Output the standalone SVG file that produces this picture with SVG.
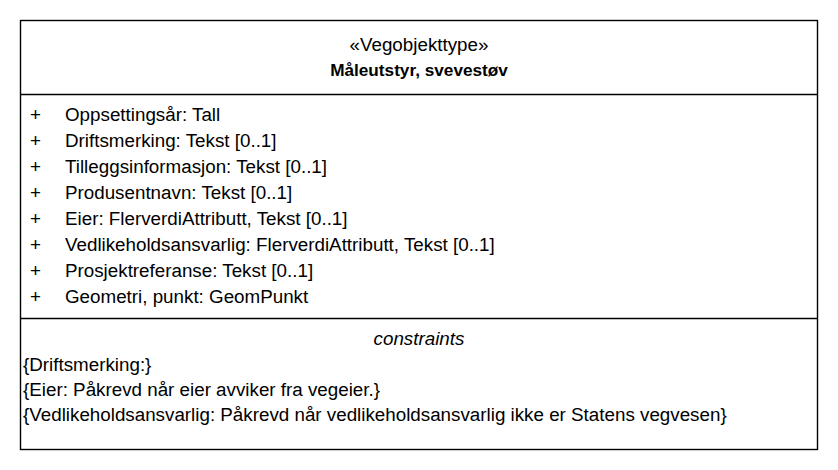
<svg xmlns="http://www.w3.org/2000/svg" width="838" height="470" viewBox="0 0 838 470">
<style>
.t{font-family:"Liberation Sans",Arial,sans-serif;font-size:18.8px;fill:#000}
.c{text-anchor:middle}
.b{font-weight:bold;font-size:17.2px}
.i{font-style:italic}
.ln{stroke:#000;stroke-width:1.4;fill:none}
</style>
<rect width="838" height="470" fill="#fff"/>
<g id="class-maleutstyr-svevestov">
<rect class="ln" x="20.5" y="20.5" width="797" height="429"/>
<line class="ln" x1="20.5" y1="94.5" x2="817.5" y2="94.5"/>
<line class="ln" x1="20.5" y1="318.5" x2="817.5" y2="318.5"/>
<text class="t c" x="419" y="51">«Vegobjekttype»</text>
<text class="t c b" x="419" y="76">Måleutstyr, svevestøv</text>
<g class="t">
<text x="30" y="121">+</text><text x="65" y="121">Oppsettingsår: Tall</text>
<text x="30" y="147">+</text><text x="65" y="147">Driftsmerking: Tekst [0..1]</text>
<text x="30" y="173">+</text><text x="65" y="173">Tilleggsinformasjon: Tekst [0..1]</text>
<text x="30" y="199">+</text><text x="65" y="199">Produsentnavn: Tekst [0..1]</text>
<text x="30" y="225">+</text><text x="65" y="225">Eier: FlerverdiAttributt, Tekst [0..1]</text>
<text x="30" y="251">+</text><text x="65" y="251">Vedlikeholdsansvarlig: FlerverdiAttributt, Tekst [0..1]</text>
<text x="30" y="277">+</text><text x="65" y="277">Prosjektreferanse: Tekst [0..1]</text>
<text x="30" y="303">+</text><text x="65" y="303">Geometri, punkt: GeomPunkt</text>
</g>
<text class="t c i" x="419" y="345">constraints</text>
<g class="t">
<text x="23" y="371">{Driftsmerking:}</text>
<text x="23" y="396">{Eier: Påkrevd når eier avviker fra vegeier.}</text>
<text x="23" y="421">{Vedlikeholdsansvarlig: Påkrevd når vedlikeholdsansvarlig ikke er Statens vegvesen}</text>
</g>
</g>
<g id="connectors"/>
</svg>
